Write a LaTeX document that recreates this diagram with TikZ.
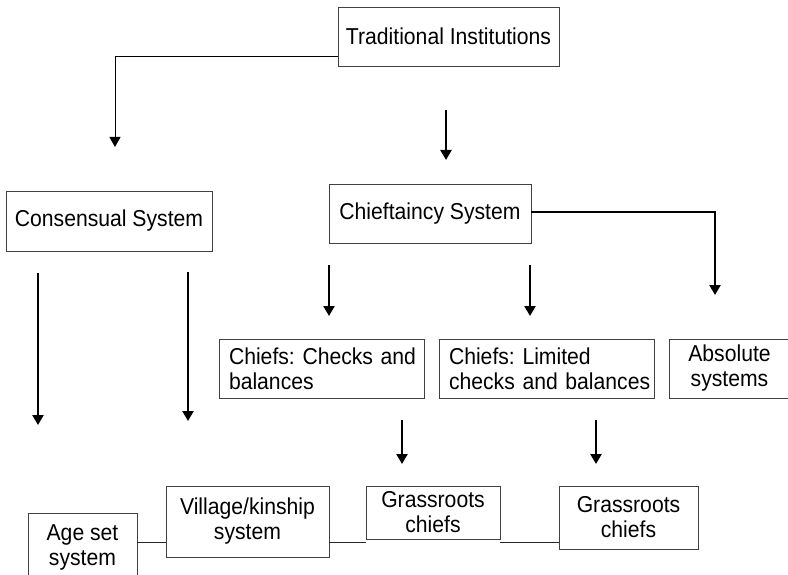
\documentclass[tikz,border=0pt]{standalone}
\usepackage{fontspec}
\setmainfont{Liberation Sans}[FakeStretch=0.92]
\usetikzlibrary{arrows.meta,calc}
\begin{document}
\frenchspacing
\begin{tikzpicture}[x=1pt,y=-1pt,
  box/.style={draw=black!75,line width=0.9pt,rectangle,inner sep=0pt,
    font=\fontsize{23}{25}\selectfont,align=center},
  lbox/.style={box,align=left,inner xsep=10pt},
  thin/.style={line width=1pt,draw=black!85},
  thinarrow/.style={line width=1pt,-{Triangle[width=11pt,length=10pt]}},
  thickarrow/.style={line width=2.6pt,-{Triangle[width=11pt,length=10pt]}}]
\useasboundingbox (0,0) rectangle (788,575);
\clip (0,0) rectangle (788,575);

% boxes
\node[box,minimum width=221pt,minimum height=59pt] (trad) at (448.5,36.5) {Traditional Institutions};
\node[box,minimum width=206pt,minimum height=60pt] (cons) at (109,221) {Consensual System};
\node[box,minimum width=202pt,minimum height=59pt] (chief) at (430,213.5) {Chieftaincy System};
\node[lbox,minimum height=59pt,text width=185pt] (cb) at (321.5,368.5) {\mbox{Chiefs: Checks and}\\balances};
\node[lbox,minimum height=59pt,text width=195pt] (lcb) at (546.5,368.5) {\mbox{Chiefs: Limited}\\\mbox{checks and balances}};
\node[box,minimum width=121pt,minimum height=59pt] (abs) at (729.5,368.5) {Absolute\\systems};
\node[box,minimum width=109pt,minimum height=68pt] (age) at (82.5,547) {Age set\\system};
\node[box,minimum width=163pt,minimum height=71pt] (vil) at (247.5,521.5) {Village/kinship\\system};
\node[box,minimum width=134pt,minimum height=53pt] (gA) at (433,512.5) {Grassroots\\chiefs};
\node[box,minimum width=139pt,minimum height=63pt] (gB) at (628.5,517.5) {Grassroots\\chiefs};

% helper coordinates
\coordinate (yTrad) at (0,57);
\coordinate (cTradCorner) at (115,57);
\coordinate (cTradEnd) at (115,147);
\coordinate (cA1) at (446,110);
\coordinate (cA2) at (446,160);
\coordinate (cChiefCorner) at (715,212);
\coordinate (cChiefEnd) at (715,295);
\coordinate (cB1) at (329,265);
\coordinate (cB2) at (329,316);
\coordinate (cC1) at (530,265);
\coordinate (cC2) at (530,316);
\coordinate (cD1) at (38,273);
\coordinate (cD2) at (38,425);
\coordinate (cE1) at (188,272);
\coordinate (cE2) at (188,421);
\coordinate (cF1) at (402,420);
\coordinate (cF2) at (402,464);
\coordinate (cG1) at (596,420);
\coordinate (cG2) at (596,464);
\coordinate (yBot) at (0,542);

% connectors
\draw[thinarrow] (trad.west |- yTrad) -- (cTradCorner) -- (cTradEnd);
\draw[thickarrow] (cA1) -- (cA2);
\draw[thickarrow] (chief.east |- cChiefCorner) -- (cChiefCorner) -- (cChiefEnd);
\draw[thickarrow] (cB1) -- (cB2);
\draw[thickarrow] (cC1) -- (cC2);
\draw[thickarrow] (cD1) -- (cD2);
\draw[thickarrow] (cE1) -- (cE2);
\draw[thickarrow] (cF1) -- (cF2);
\draw[thickarrow] (cG1) -- (cG2);
\draw[thin] (age.east |- yBot) -- (vil.west |- yBot);
\draw[thin] (vil.east |- yBot) -- (gA.west |- yBot);
\draw[thin] (gA.east |- yBot) -- (gB.west |- yBot);
\end{tikzpicture}
\end{document}
